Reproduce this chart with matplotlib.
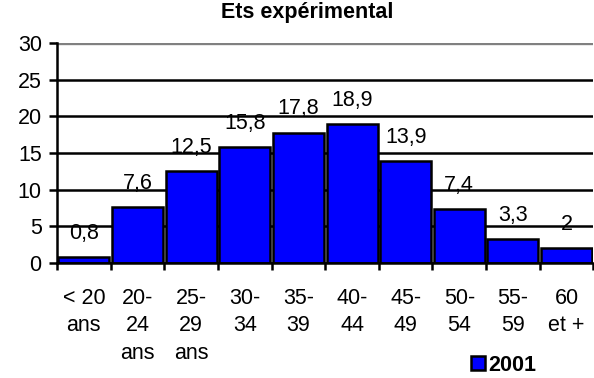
import numpy as np
import matplotlib
matplotlib.use("Agg")
import matplotlib.pyplot as plt

# Répartition par tranche d'âge, année 2001
categories = ["< 20\nans", "20-\n24\nans", "25-\n29\nans", "30-\n34", "35-\n39",
              "40-\n44", "45-\n49", "50-\n54", "55-\n59", "60\net +"]
values_2001 = [0.8, 7.6, 12.5, 15.8, 17.8, 18.9, 13.9, 7.4, 3.3, 2]
yticks = [0, 5, 10, 15, 20, 25, 30]

plt.rcParams['font.family'] = ['Liberation Sans', 'DejaVu Sans']
FS = 15.5

fig = plt.figure(figsize=(5.94, 3.78), dpi=100)
ax = fig.add_axes([0.096, 0.304, 0.903, 0.582])

x = np.arange(len(categories))

# grid lines drawn behind the bars
for y in yticks:
    ax.axhline(y, color='#808080' if y == 30 else 'black',
               lw=2.4 if y == 30 else 1.8, zorder=0)

bars = ax.bar(x, values_2001, width=0.95, color='#0000FF', edgecolor='black',
              linewidth=1.8, zorder=2, label='2001')

for xi, v in zip(x, values_2001):
    label = f"{v:g}".replace('.', ',')
    ax.annotate(label, (xi, v), xytext=(0, 17), textcoords='offset points',
                ha='center', va='center', fontsize=FS)

ax.set_xlim(-0.5, len(categories) - 0.5)
ax.set_ylim(0, 30)
ax.set_yticks(yticks)
ax.tick_params(axis='y', length=6, width=1.8, labelsize=FS, pad=5)

ax.set_xticks(x)
ax.set_xticklabels(categories, fontsize=FS, linespacing=1.4)
ax.tick_params(axis='x', which='major', length=0, pad=18)
ax.set_xticks(np.arange(-0.5, len(categories), 1), minor=True)
ax.tick_params(axis='x', which='minor', length=5, width=1.8)

for side in ['top', 'right']:
    ax.spines[side].set_visible(False)
ax.spines['left'].set_linewidth(1.8)
ax.spines['bottom'].set_linewidth(1.8)

fig.text(0.517, 0.968, "Ets expérimental", ha='center', va='center',
         fontsize=FS, fontweight='bold')

leg = fig.legend(handles=[bars], labels=['2001'], loc='center',
                 bbox_to_anchor=(0.848, 0.034), frameon=False,
                 prop={'weight': 'bold', 'size': FS},
                 handlelength=0.65, handleheight=0.65, handletextpad=0.15,
                 borderpad=0)

fig.savefig('out.png', dpi=100)
